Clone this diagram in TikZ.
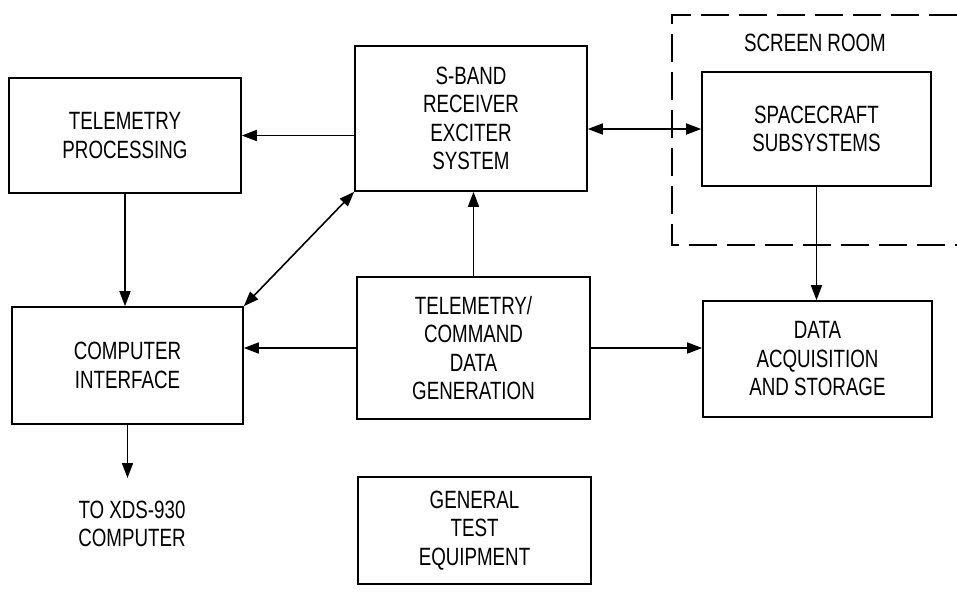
\documentclass[tikz,border=0pt]{standalone}
\usepackage{fontspec}
\setmainfont[FakeStretch=0.75]{Liberation Sans}
\usetikzlibrary{arrows.meta}
\begin{document}
\begin{tikzpicture}[x=1pt,y=-1pt,
  box/.style={draw, line width=1.6pt, align=center, inner sep=0pt,
    font=\fontsize{25}{28.5}\selectfont},
  lbl/.style={align=center, inner sep=0pt, font=\fontsize{25}{28.5}\selectfont},
  arr/.style={line width=1.6pt, -{Triangle[length=15pt,width=11pt]}},
  dbl/.style={line width=1.6pt, {Triangle[length=15pt,width=11pt]}-{Triangle[length=15pt,width=11pt]}},
  room/.style={line width=2.5pt, dash pattern=on 28pt off 10pt}]
\useasboundingbox (0,0) rectangle (957,592);
\node[box, minimum width=232pt, minimum height=115pt] (tp) at (125,135.5) {TELEMETRY\\PROCESSING};
\node[box, minimum width=232pt, minimum height=145pt] (sb) at (471,118.5) {S-BAND\\RECEIVER\\EXCITER\\SYSTEM};
\node[box, minimum width=229pt, minimum height=114pt] (sc) at (816.5,129) {SPACECRAFT\\SUBSYSTEMS};
\node[box, minimum width=231pt, minimum height=117pt] (ci) at (127.5,365.5) {COMPUTER\\INTERFACE};
\node[box, minimum width=233pt, minimum height=142pt] (td) at (473.5,348) {TELEMETRY/\\COMMAND\\DATA\\GENERATION};
\node[box, minimum width=229pt, minimum height=116pt] (da) at (817.5,359) {DATA\\ACQUISITION\\AND STORAGE};
\node[box, minimum width=233pt, minimum height=107pt] (gt) at (474.5,530.5) {GENERAL\\TEST\\EQUIPMENT};
\node[lbl] (xds) at (132,524) {TO XDS-930\\COMPUTER};
\node[lbl] (sr) at (815,43) {SCREEN ROOM};
\draw[room] (957,15) -- (672,15) -- (672,245) -- (957,245);
\coordinate (xdsend) at (ci.south |- 0,478);
\draw[arr] (sb.west |- tp.east) -- (tp.east);
\draw[dbl] (sb.east |- sc.west) -- (sc.west);
\draw[arr] (tp.south) -- (tp.south |- ci.north);
\draw[dbl] (sb.south west) -- (ci.north east);
\draw[arr] (td.north) -- (td.north |- sb.south);
\draw[arr] (td.west) -- (td.west -| ci.east);
\draw[arr] (td.east) -- (td.east -| da.west);
\draw[arr] (sc.south) -- (sc.south |- da.north);
\draw[arr] (ci.south) -- (xdsend);
\end{tikzpicture}
\end{document}
